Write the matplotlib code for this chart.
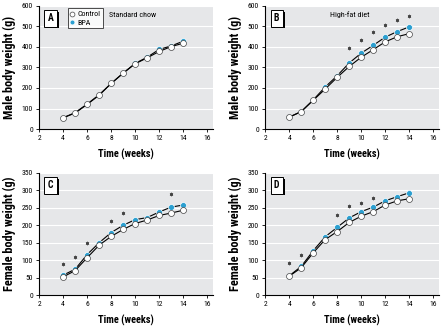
import matplotlib
matplotlib.use("Agg")
from matplotlib import pyplot as plt
from matplotlib import font_manager, patheffects
import numpy as np

installed = {f.name for f in font_manager.fontManager.ttflist}
narrow = [n for n in ["Liberation Sans Narrow", "Roboto Condensed", "Archivo Narrow",
                      "Asap Condensed", "Barlow Semi Condensed"] if n in installed]
plt.rcParams['font.family'] = narrow[:1] + ['DejaVu Sans']

weeks = [4, 5, 6, 7, 8, 9, 10, 11, 12, 13, 14]

# panel A: males, standard chow
a_control = [55, 78, 120, 165, 222, 272, 318, 347, 378, 402, 418]
a_bpa = [55, 80, 122, 167, 222, 273, 320, 350, 388, 405, 428]
a_star_weeks = []
a_star_vals = []

# panel B: males, high-fat diet
b_control = [58, 85, 140, 195, 252, 305, 350, 387, 425, 450, 465]
b_bpa = [58, 85, 142, 205, 260, 322, 370, 408, 448, 475, 498]
b_star_weeks = [9, 10, 11, 12, 13, 14]
b_star_vals = [395, 435, 472, 508, 533, 553]

# panel C: females, standard chow
c_control = [52, 70, 107, 143, 168, 188, 205, 215, 228, 235, 243]
c_bpa = [57, 74, 116, 150, 179, 200, 216, 222, 238, 252, 258]
c_star_weeks = [4, 5, 6, 8, 9, 13]
c_star_vals = [90, 110, 150, 213, 236, 290]

# panel D: females, high-fat diet
d_control = [54, 78, 121, 159, 182, 208, 226, 239, 258, 270, 276]
d_bpa = [55, 82, 127, 167, 194, 221, 239, 252, 270, 282, 293]
d_star_weeks = [4, 5, 8, 9, 10, 11]
d_star_vals = [92, 116, 230, 256, 265, 279]

BG = "#e6e7e9"
BLUE = "#2b9fd0"


def panel_letter(ax, letter):
    t = ax.text(0.05, 0.9, letter, transform=ax.transAxes, fontsize=7, fontweight="bold",
                va="center", ha="left", zorder=6,
                bbox=dict(boxstyle="square,pad=0.35", fc="white", ec="black", lw=0.7))
    t.get_bbox_patch().set_path_effects([
        patheffects.SimplePatchShadow(offset=(1.3, -1.3), shadow_rgbFace="black", alpha=1),
        patheffects.Normal()])


def draw_panel(fig, rect, control, bpa, star_w, star_v, ymax, ystep, ylabel, letter,
               note=None, note_x=0.4):
    ax = fig.add_axes(rect)
    ax.set_facecolor(BG)
    ax.plot(weeks, bpa, color="black", lw=0.8, marker="o", ms=4.3, mfc=BLUE,
            mec="white", mew=0.5, label="BPA", zorder=3)
    ax.plot(weeks, control, color="black", lw=0.8, marker="o", ms=4.3, mfc="white",
            mec="#444444", mew=0.5, label="Control", zorder=4)
    if star_w:
        ax.plot(star_w, star_v, ls="none", marker=(6, 2, 0), ms=2.5, mew=0.5,
                color="#444444", zorder=4)
    ax.set_xlim(2, 16.5)
    ax.set_ylim(0, ymax)
    ax.set_xticks(np.arange(2, 17, 2))
    ax.set_yticks(np.arange(0, ymax + 1, ystep))
    ax.yaxis.grid(True, color="white", lw=0.8)
    ax.set_axisbelow(True)
    for s in ["top", "right"]:
        ax.spines[s].set_visible(False)
    for s in ["left", "bottom"]:
        ax.spines[s].set_linewidth(0.8)
    ax.tick_params(labelsize=5.5, length=2.5, width=0.6, pad=2)
    ax.set_xlabel("Time (weeks)", fontsize=7.5, fontweight="bold", labelpad=5)
    ax.set_ylabel(ylabel, fontsize=8.8, fontweight="bold", labelpad=4)
    panel_letter(ax, letter)
    if note:
        ax.text(note_x, 0.93, note, transform=ax.transAxes, fontsize=5.8, va="center")
    return ax


fig = plt.figure(figsize=(4.45, 3.3), dpi=100)

ax_a = draw_panel(fig, [0.088, 0.609, 0.391, 0.373], a_control, a_bpa, a_star_weeks,
                  a_star_vals, 600, 100, "Male body weight (g)", "A", "Standard chow")
draw_panel(fig, [0.596, 0.609, 0.391, 0.373], b_control, b_bpa, b_star_weeks,
           b_star_vals, 600, 100, "Male body weight (g)", "B", "High-fat diet", 0.37)
draw_panel(fig, [0.088, 0.106, 0.391, 0.370], c_control, c_bpa, c_star_weeks,
           c_star_vals, 350, 50, "Female body weight (g)", "C")
draw_panel(fig, [0.596, 0.106, 0.391, 0.370], d_control, d_bpa, d_star_weeks,
           d_star_vals, 350, 50, "Female body weight (g)", "D")

handles, labels = ax_a.get_legend_handles_labels()
leg = ax_a.legend(handles[::-1], labels[::-1], loc="upper left", bbox_to_anchor=(0.15, 1.0),
                  fontsize=5.8, frameon=True, fancybox=False, handlelength=0.5,
                  handletextpad=0.4, borderpad=0.3, labelspacing=0.25, borderaxespad=0.3)
leg.get_frame().set_edgecolor("black")
leg.get_frame().set_linewidth(0.6)
for h in leg.legend_handles:
    h.set_linestyle("none")
    h.set_markersize(3.5)

fig.savefig("out.png", dpi=100)
